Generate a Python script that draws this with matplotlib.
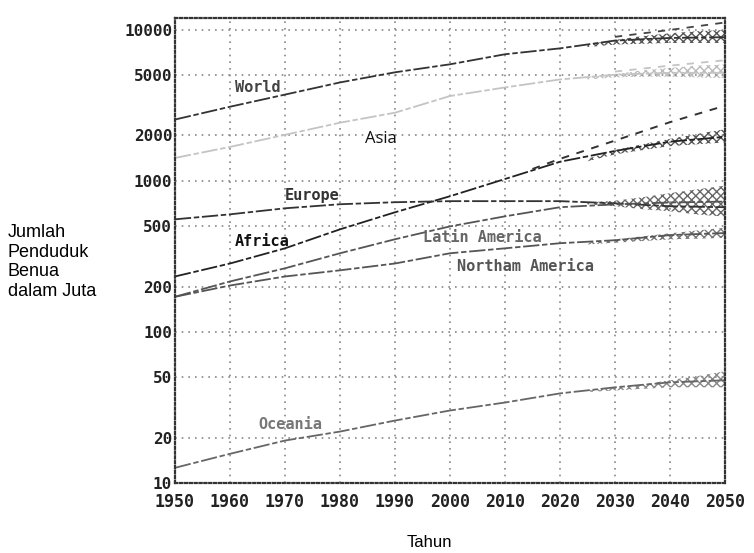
import matplotlib
matplotlib.use("Agg")
import matplotlib.pyplot as plt

# data (juta jiwa)
years = [1950, 1960, 1970, 1980, 1990, 2000, 2010, 2020, 2030, 2040, 2050]
world = [2550, 3100, 3730, 4490, 5240, 5920, 6900, 7550, 8500, 8850, 8950]
asia = [1420, 1680, 2020, 2430, 2830, 3650, 4160, 4700, 5050, 5200, 5200]
africa = [233, 284, 358, 478, 620, 792, 1030, 1340, 1580, 1820, 1960]
europe = [557, 601, 659, 701, 723, 735, 735, 735, 711, 680, 670]
latin_america = [171, 216, 264, 332, 411, 500, 583, 670, 700, 720, 730]
northern_america = [171, 203, 233, 256, 284, 332, 358, 387, 405, 438, 452]
oceania = [12.6, 15.6, 19.1, 21.9, 25.9, 30.2, 34.1, 39.2, 43, 46.4, 47.9]

# proyeksi (varian rendah / tinggi)
years_proj = [2025, 2030, 2035, 2040, 2045, 2050]
world_low = [7700, 8000, 8100, 8200, 8200, 8200]
world_high = [8000, 8600, 9100, 9500, 9800, 10000]
asia_low = [4700, 4850, 4900, 4900, 4850, 4800]
asia_high = [4900, 5100, 5400, 5600, 5800, 5900]
africa_low = [1350, 1500, 1600, 1700, 1750, 1800]
africa_high = [1400, 1600, 1750, 1900, 2050, 2200]
europe_low = [700, 680, 650, 630, 600, 580]
europe_high = [720, 740, 780, 830, 880, 930]
namerica_low = [380, 390, 400, 410, 415, 420]
namerica_high = [390, 410, 430, 450, 470, 490]
oceania_low = [40, 41, 42, 43, 43, 43]
oceania_high = [41, 43, 45, 48, 51, 55]

# garis varian tinggi (putus-putus)
years_up = [2030, 2040, 2050]
world_up = [9000, 10000, 11200]
asia_up = [5300, 5800, 6300]
years_up_af = [2015, 2020, 2030, 2040, 2050]
africa_up = [1200, 1400, 1850, 2450, 3150]

yticks = [10, 20, 50, 100, 200, 500, 1000, 2000, 5000, 10000]
xticks = list(range(1950, 2051, 10))

fig = plt.figure(figsize=(7.54, 5.53), dpi=100)
ax = fig.add_axes([0.232, 0.1266, 0.7295, 0.8409])
ax.set_yscale("log")
ax.set_xlim(1950, 2050)
ax.set_ylim(10, 12000)

# band proyeksi
bands = [(world_low, world_high, "#555555"),
         (asia_low, asia_high, "#bbbbbb"),
         (africa_low, africa_high, "#555555"),
         (europe_low, europe_high, "#666666"),
         (namerica_low, namerica_high, "#777777"),
         (oceania_low, oceania_high, "#888888")]
for lo, hi, c in bands:
    ax.fill_between(years_proj, lo, hi, facecolor="none", edgecolor=c,
                    hatch="xxxx", linewidth=0)

ls = (0, (9, 1.5, 3, 1.5))
ax.plot(years, world, color="#333333", lw=1.3, ls=ls)
ax.plot(years, asia, color="#c4c4c4", lw=1.3, ls=ls)
ax.plot(years, africa, color="#222222", lw=1.3, ls=ls)
ax.plot(years, europe, color="#333333", lw=1.3, ls=ls)
ax.plot(years, latin_america, color="#555555", lw=1.3, ls=ls)
ax.plot(years, northern_america, color="#555555", lw=1.3, ls=ls)
ax.plot(years, oceania, color="#666666", lw=1.3, ls=ls)

ax.plot(years_up, world_up, color="#444444", lw=1.3, ls=(0, (4, 4)))
ax.plot(years_up, asia_up, color="#c4c4c4", lw=1.3, ls=(0, (4, 4)))
ax.plot(years_up_af, africa_up, color="#333333", lw=1.4, ls=(0, (4, 4)))

# label benua
lab = dict(fontsize=11, fontweight="bold", family="DejaVu Sans Mono")
ax.text(1960.9, 4160, "World", color="#444444", va="center", **lab)
ax.text(1970, 800, "Europe", color="#333333", va="center", **lab)
ax.text(1960.9, 397, "Africa", color="#111111", va="center", **lab)
ax.text(1995.1, 422, "Latin America", color="#666666", va="center", **lab)
ax.text(2001.3, 271, "Northam America", color="#555555", va="center", **lab)
ax.text(1965.1, 24.4, "Oceania", color="#777777", va="center", **lab)
ax.text(1984.5, 1910, "Asia", color="#111111", va="center", fontsize=12,
        family="Open Sans")

ax.set_xticks(xticks)
ax.set_xticklabels([str(x) for x in xticks])
ax.set_yticks(yticks)
ax.set_yticklabels([str(y) for y in yticks])
ax.minorticks_off()
ax.tick_params(length=0, pad=2)
for t in ax.get_xticklabels() + ax.get_yticklabels():
    t.set_fontweight("bold")
    t.set_family("DejaVu Sans Mono")
    t.set_fontsize(12)
    t.set_color("#222222")
for t in ax.get_yticklabels():
    t.set_fontsize(11.5)
ax.tick_params(axis="x", pad=7)

ax.grid(True, color="#888888", ls=(0, (1, 3)), lw=1.2)
for s in ax.spines.values():
    s.set_linestyle((0, (1, 1.2)))
    s.set_color("#333333")
    s.set_linewidth(1.6)

fig.text(0.01, 0.526, "Jumlah\nPenduduk\nBenua\ndalam Juta", fontsize=13,
         family="Liberation Sans", va="center", ha="left", linespacing=1.2)
fig.text(0.57, 0.005, "Tahun", fontsize=12, family="Liberation Sans",
         ha="center", va="bottom")

fig.savefig("out.png", dpi=100)
